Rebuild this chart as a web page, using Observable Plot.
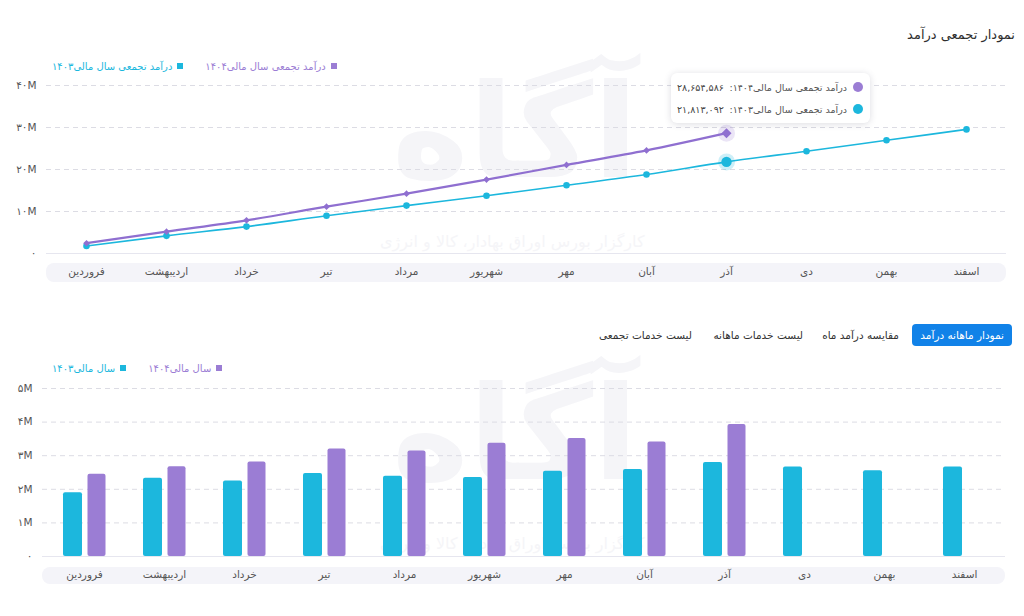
<!DOCTYPE html>
<html lang="fa">
<head>
<meta charset="utf-8">
<script src="https://cdn.jsdelivr.net/npm/d3@7"></script>
<script src="https://cdn.jsdelivr.net/npm/@observablehq/plot@0.6"></script>
<style>
  html, body { margin: 0; padding: 0; background: #fff; }
  body { width: 1024px; height: 616px; position: relative; overflow: hidden; font-family: "DejaVu Sans", sans-serif; color: #333; }
  .abs { position: absolute; }
  .title { right: 9px; top: 27px; font-size: 13px; color: #2e2e2e; direction: rtl; white-space: nowrap; }
  .legend { display: flex; direction: rtl; gap: 22px; font-size: 10px; white-space: nowrap; }
  .legend span.sw { display: inline-block; width: 6px; height: 6px; margin-left: 5px; vertical-align: middle; position: relative; top: -1px; }
  .tab { top: 324px; height: 22px; line-height: 22px; font-size: 10.5px; color: #333; direction: rtl; white-space: nowrap; }
  .tab.active { background: #1182e8; color: #fff; border-radius: 4px; padding: 0 8px; }
  .tip { left: 671px; top: 73px; width: 199px; background: #fff; border-radius: 6px; box-shadow: 0 1px 7px rgba(60,60,90,0.18); direction: rtl; padding: 3px 0; font-size: 9.5px; color: #555; box-sizing: border-box; white-space: nowrap; }
  .tip .row { display: flex; align-items: center; height: 22px; padding: 0 7px 0 6px; }
  .tip .dot { width: 10px; height: 10px; border-radius: 50%; margin-left: 6px; flex: none; }
  .tip .val { margin-right: auto; color: #444; }
  .mark { color: #f5f5f8; direction: rtl; white-space: nowrap; }
  .chart svg { background: transparent; }
</style>
</head>
<body>
<div id="root"></div>
<script>
// Months of the Iranian fiscal year, left to right on the axis
const months = ["فروردین", "اردیبهشت", "خرداد", "تیر", "مرداد", "شهریور", "مهر", "آبان", "آذر", "دی", "بهمن", "اسفند"];

// Cumulative revenue (rials)
const cumulative1404 = [2450000, 5200000, 7900000, 11150000, 14250000, 17600000, 21100000, 24550000, 28654586];
const cumulative1403 = [1800000, 4200000, 6400000, 9000000, 11400000, 13750000, 16250000, 18800000, 21813092, 24350000, 26950000, 29550000];

// Monthly revenue (rials)
const monthly1404 = [2450000, 2670000, 2810000, 3200000, 3140000, 3370000, 3510000, 3410000, 3930000];
const monthly1403 = [1900000, 2330000, 2250000, 2470000, 2390000, 2350000, 2540000, 2590000, 2800000, 2660000, 2550000, 2660000];

const cumulativeTicks = [0, 10000000, 20000000, 30000000, 40000000];
const monthlyTicks = [0, 1000000, 2000000, 3000000, 4000000, 5000000];

const year1404 = "۱۴۰۴";
const year1403 = "۱۴۰۳";
const cumulativeName = "درآمد تجمعی سال مالی";
const monthlyName = "سال مالی";
const focusMonth = "آذر";
const tabs = ["نمودار ماهانه درآمد", "مقایسه درآمد ماه", "لیست خدمات ماهانه", "لیست خدمات تجمعی"];

const purple = "#9b7dd4";
const purpleLine = "#8f6fd0";
const cyan = "#1cb7dd";

const faDigits = "۰۱۲۳۴۵۶۷۸۹";
const fa = (s) => String(s).replace(/[0-9]/g, (c) => faDigits[+c]);
const tickM = (d) => d === 0 ? "۰" : fa(d / 1e6) + "M";
const grouped = d3.format(",");

const rows = (values) => values.map((value, i) => ({month: months[i], value}));
const c1404 = rows(cumulative1404);
const c1403 = rows(cumulative1403);
const m1404 = rows(monthly1404);
const m1403 = rows(monthly1403);

// Rounded light band behind the month labels
function axisBand(offset, h) {
  return (index, scales, values, dims) => {
    const r = document.createElementNS("http://www.w3.org/2000/svg", "rect");
    r.setAttribute("x", dims.marginLeft);
    r.setAttribute("y", dims.height - dims.marginBottom + offset);
    r.setAttribute("width", dims.width - dims.marginLeft - dims.marginRight);
    r.setAttribute("height", h);
    r.setAttribute("rx", 8);
    r.setAttribute("fill", "#f4f4f9");
    return r;
  };
}

const root = document.getElementById("root");
function place(el, cls, left, top) {
  el.classList.add("abs");
  if (cls) el.classList.add(cls);
  if (left != null) el.style.left = left + "px";
  if (top != null) el.style.top = top + "px";
  root.appendChild(el);
  return el;
}
function html(str) {
  const d = document.createElement("div");
  d.innerHTML = str;
  return d.firstElementChild;
}

// Faint brand watermark behind both charts
for (const top of [62, 364]) {
  place(html(`<div class="mark" style="font-size:130px;font-weight:bold;line-height:140px;">آگاه</div>`), null, 392, top);
  place(html(`<div class="mark" style="font-size:16px;">کارگزار بورس اوراق بهادار، کالا و انرژی</div>`), null, 380, top + 170);
}

// Title
place(html(`<div class="title">نمودار تجمعی درآمد</div>`));

// Legend of the cumulative chart
place(html(`<div class="legend">
  <div style="color:${purple}"><span class="sw" style="background:${purple}"></span>${cumulativeName}${year1404}</div>
  <div style="color:${cyan}"><span class="sw" style="background:${cyan}"></span>${cumulativeName}${year1403}</div>
</div>`), null, 52, 61);

// Cumulative line chart
const lineChart = Plot.plot({
  width: 1024,
  height: 215,
  marginLeft: 46,
  marginRight: 18,
  marginTop: 10,
  marginBottom: 37,
  style: {fontFamily: "DejaVu Sans, sans-serif", fontSize: "10.5px", color: "#555", background: "transparent"},
  x: {type: "point", domain: months, padding: 0.5, axis: null},
  y: {domain: [0, 40000000], axis: null},
  marks: [
    axisBand(10, 19),
    Plot.gridY(cumulativeTicks.filter((d) => d > 0), {stroke: "#dcdce4", strokeOpacity: 1, strokeDasharray: "5,4"}),
    Plot.ruleY([0], {stroke: "#e6e6ef"}),
    Plot.axisY(cumulativeTicks, {tickSize: 0, tickPadding: 10, tickFormat: tickM, fill: "#555", label: null}),
    Plot.axisX(months, {tickSize: 0, tickPadding: 14, fill: "#555", label: null}),
    Plot.line(c1403, {x: "month", y: "value", stroke: cyan, strokeWidth: 1.6, curve: "monotone-x"}),
    Plot.line(c1404, {x: "month", y: "value", stroke: purpleLine, strokeWidth: 2.2, curve: "monotone-x"}),
    Plot.dot(c1403, {x: "month", y: "value", r: 3.3, fill: cyan}),
    Plot.dot(c1404, {x: "month", y: "value", r: 3, symbol: "diamond2", fill: purpleLine}),
    Plot.dot(c1403.filter((d) => d.month === focusMonth), {x: "month", y: "value", r: 8.5, fill: cyan, fillOpacity: 0.22}),
    Plot.dot(c1403.filter((d) => d.month === focusMonth), {x: "month", y: "value", r: 5.2, fill: cyan}),
    Plot.dot(c1404.filter((d) => d.month === focusMonth), {x: "month", y: "value", r: 8.5, fill: purple, fillOpacity: 0.2}),
    Plot.dot(c1404.filter((d) => d.month === focusMonth), {x: "month", y: "value", r: 4.5, symbol: "diamond2", fill: purpleLine})
  ]
});
const lineWrap = document.createElement("div");
lineWrap.appendChild(lineChart);
place(lineWrap, "chart", 0, 75);

// Hover tooltip at the focused month
const fi = months.indexOf(focusMonth);
place(html(`<div class="tip">
  <div class="row"><span class="dot" style="background:${purple}"></span><span>${cumulativeName}${year1404}:</span><span class="val">${fa(grouped(cumulative1404[fi]))}</span></div>
  <div class="row"><span class="dot" style="background:${cyan}"></span><span>${cumulativeName}${year1403}:</span><span class="val">${fa(grouped(cumulative1403[fi]))}</span></div>
</div>`));

// Tabs, anchored by their right edges
const tabRights = [12, 125, 221, 332];
tabs.forEach((t, i) => {
  const el = place(html(`<div class="tab${i === 0 ? " active" : ""}">${t}</div>`));
  el.style.right = tabRights[i] + "px";
});

// Legend of the monthly chart
place(html(`<div class="legend">
  <div style="color:${purple}"><span class="sw" style="background:${purple}"></span>${monthlyName}${year1404}</div>
  <div style="color:${cyan}"><span class="sw" style="background:${cyan}"></span>${monthlyName}${year1403}</div>
</div>`), null, 52, 363);

// Monthly grouped bar chart
const barChart = Plot.plot({
  width: 1024,
  height: 220,
  marginLeft: 42,
  marginRight: 19,
  marginTop: 8,
  marginBottom: 44,
  style: {fontFamily: "DejaVu Sans, sans-serif", fontSize: "10.5px", color: "#555", background: "transparent"},
  x: {type: "band", domain: months, padding: 0, axis: null},
  y: {domain: [0, 5000000], axis: null},
  marks: [
    axisBand(11, 17),
    Plot.gridY(monthlyTicks.filter((d) => d > 0), {stroke: "#dcdce4", strokeOpacity: 1, strokeDasharray: "5,4"}),
    Plot.axisY(monthlyTicks, {tickSize: 0, tickPadding: 10, tickFormat: tickM, fill: "#555", label: null}),
    Plot.axisX(months, {tickSize: 0, tickPadding: 14, fill: "#555", label: null}),
    Plot.barY(m1403, {x: "month", y: "value", fill: cyan, insetLeft: 19, insetRight: 42, rx: 2}),
    Plot.barY(m1404, {x: "month", y: "value", fill: purple, insetLeft: 43.5, insetRight: 18.5, rx: 2}),
    Plot.ruleY([0], {stroke: "#e6e6ef"})
  ]
});
const barWrap = document.createElement("div");
barWrap.appendChild(barChart);
place(barWrap, "chart", 0, 380);
</script>
</body>
</html>
